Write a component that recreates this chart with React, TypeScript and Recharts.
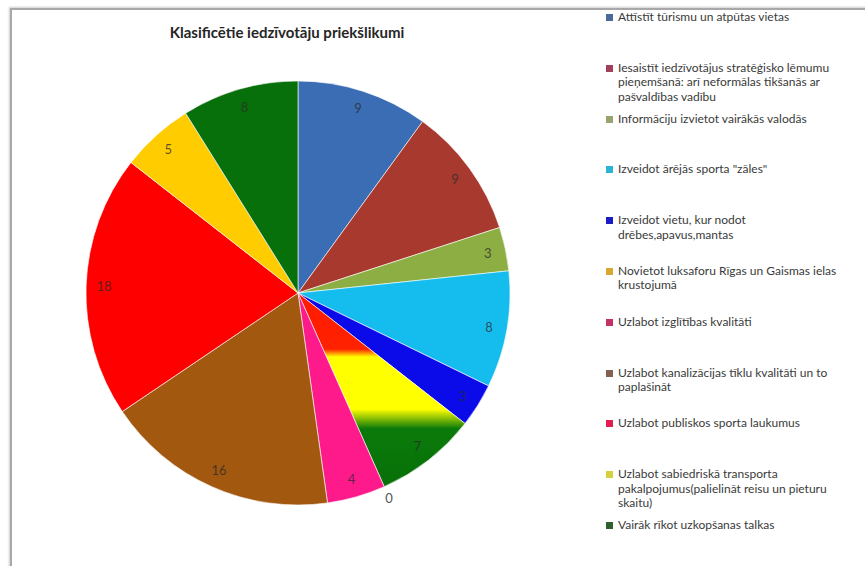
import React from 'react';
import { PieChart, Pie, Cell } from 'recharts';

const categories = [
  'Attīstīt tūrismu un atpūtas vietas',
  'Iesaistīt iedzīvotājus stratēģisko lēmumu pieņemšanā: arī neformālas tikšanās ar pašvaldības vadību',
  'Informāciju izvietot vairākās valodās',
  'Izveidot ārējās sporta "zāles"',
  'Izveidot vietu, kur nodot drēbes,apavus,mantas',
  'Novietot luksaforu Rīgas un Gaismas ielas krustojumā',
  '',
  'Uzlabot izglītības kvalitāti',
  'Uzlabot kanalizācijas tīklu kvalitāti un to paplašināt',
  'Uzlabot publiskos sporta laukumus',
  'Uzlabot sabiedriskā transporta pakalpojumus(palielināt reisu un pieturu skaitu)',
  'Vairāk rīkot uzkopšanas talkas',
];

const values = [9, 9, 3, 8, 3, 7, 0, 4, 16, 18, 5, 8];

const colors = [
  '#3b6db5',
  '#a8392f',
  '#8cae42',
  '#14bdee',
  '#0b0bea',
  'url(#trafficLight)',
  '#888888',
  '#ff1a8c',
  '#a35810',
  '#ff0000',
  '#ffcc00',
  '#08700a',
];

const legendColors = [
  '#4a6a9c',
  '#a2405c',
  '#98a46e',
  '#2cb4d4',
  '#1c1cc4',
  '#d8a830',
  '',
  '#c23262',
  '#846050',
  '#e21e50',
  '#d6d040',
  '#2e6030',
];

const data = categories.map((name, i) => ({ name, value: values[i] }));

const RADIAN = Math.PI / 180;

function renderLabel(props: any) {
  const { cx, cy, midAngle, outerRadius, value } = props;
  const r = value === 0 ? outerRadius + 12 : outerRadius - 18;
  const x = cx + r * Math.cos(-midAngle * RADIAN);
  const y = cy + r * Math.sin(-midAngle * RADIAN);
  return (
    <text
      x={x}
      y={y}
      textAnchor="middle"
      dominantBaseline="central"
      fill={value === 0 ? '#555' : '#2a2a2a'}
      fillOpacity={value === 0 ? 1 : 0.75}
      fontSize={13}
      fontFamily="Lato, sans-serif"
    >
      {value}
    </text>
  );
}

export default function App() {
  return (
    <div
      style={{
        position: 'absolute',
        left: 0,
        top: 0,
        width: 865,
        height: 566,
        overflow: 'hidden',
        background: '#fff',
        fontFamily: 'Lato, sans-serif',
      }}
    >
      <svg width={0} height={0} style={{ position: 'absolute' }}>
        <defs>
          <linearGradient id="trafficLight" x1="0" y1="0" x2="0" y2="1">
            <stop offset="0" stopColor="#ff1a00" />
            <stop offset="0.29" stopColor="#ff2200" />
            <stop offset="0.33" stopColor="#ffff00" />
            <stop offset="0.6" stopColor="#ffff00" />
            <stop offset="0.7" stopColor="#0a7a0a" />
            <stop offset="1" stopColor="#087008" />
          </linearGradient>
        </defs>
      </svg>

      {/* frame */}
      <div
        style={{
          position: 'absolute',
          left: 10,
          top: 8,
          width: 870,
          height: 570,
          borderLeft: '2px solid #a8a8a8',
          borderTop: '2px solid #a8a8a8',
          boxShadow: '-1px -1px 2px rgba(0,0,0,0.2)',
        }}
      />

      <div
        style={{
          position: 'absolute',
          left: 0,
          top: 23,
          width: 574,
          textAlign: 'center',
          fontWeight: 700,
          fontSize: 15,
          color: '#262626',
        }}
      >
        Klasificētie iedzīvotāju priekšlikumi
      </div>

      <div style={{ position: 'absolute', left: 0, top: 0 }}>
        <PieChart width={600} height={566}>
          <Pie
            data={data}
            dataKey="value"
            nameKey="name"
            cx={293}
            cy={288}
            outerRadius={212}
            startAngle={90}
            endAngle={-270}
            label={renderLabel}
            labelLine={false}
            stroke="rgba(255,255,255,0.6)"
            strokeWidth={1}
            isAnimationActive={false}
          >
            {data.map((d, i) => (
              <Cell key={i} fill={colors[i]} />
            ))}
          </Pie>
        </PieChart>
      </div>

      <div
        style={{
          position: 'absolute',
          left: 606,
          top: 10,
          width: 247,
          fontSize: 12,
          lineHeight: '14.5px',
          color: '#3a3a3a',
        }}
      >
        {categories.map((name, i) =>
          name === '' ? null : (
            <div
              key={i}
              style={{ height: 50.8, display: 'flex', alignItems: 'flex-start' }}
            >
              <span
                style={{
                  width: 7,
                  height: 7,
                  marginTop: 4,
                  marginRight: 5,
                  flex: '0 0 7px',
                  background: legendColors[i],
                }}
              />
              <span>{name}</span>
            </div>
          )
        )}
      </div>
    </div>
  );
}
